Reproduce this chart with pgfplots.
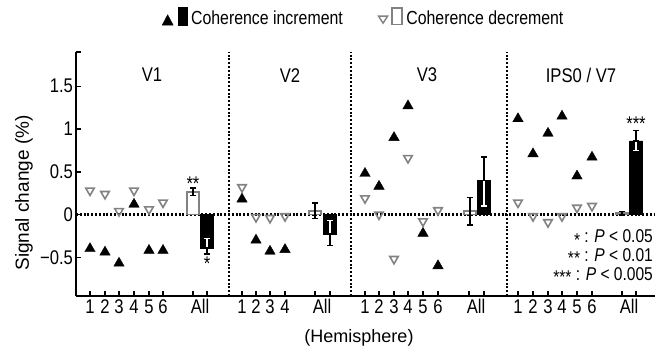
\documentclass[border=0pt]{standalone}
\usepackage{pgfplots}
\pgfplotsset{compat=1.18}
\usepackage{fontspec}
\setmainfont{Liberation Sans}[FakeStretch=0.84]
\newfontfamily\widefont{Liberation Sans}
\definecolor{mgray}{RGB}{130,130,130}
\newcommand\nf{\fontsize{19.8}{22}\selectfont}
\newcommand\lf{\fontsize{18.9}{22}\selectfont}
\begin{document}
\begin{tikzpicture}
\useasboundingbox (-76pt,-56pt) rectangle (589pt,296pt);
\begin{axis}[
  scale only axis, width=579pt, height=244pt,
  xmin=76, xmax=655, ymin=-0.953, ymax=1.901,
  axis x line*=bottom, axis y line*=left,
  axis line style={-, line width=2pt},
  tick align=inside, major tick length=5pt,
  tick style={line width=1.5pt, black},
  xtick={90,105,119,134,149,163,193,207,242,256,270,285,315,330,365,379,394,408,423,438,469,484,518,533,548,562,577,592,622,636},
  xticklabels={1,2,3,4,5,6,,,1,2,3,4,,,1,2,3,4,5,6,,,1,2,3,4,5,6,,},
  extra x ticks={200,322,476,629},
  extra x tick labels={All,All,All,All},
  extra x tick style={major tick length=0pt},
  ytick={-0.5,0,0.5,1,1.5},
  yticklabels={−0.5,0,0.5,1,1.5},
  extra y ticks={1.9}, extra y tick labels={},
  ticklabel style={font=\nf},
  yticklabel style={xshift=0.5pt},
  clip=false,
  legend columns=2,
  legend style={draw=none, fill=none, inner sep=0pt, outer sep=0pt,
    at={(axis description cs:0.1485,1.1844)}, anchor=north west,
    nodes={inner sep=0pt, font=\lf},
    /tikz/every odd column/.append style={column sep=3.7pt},
    /tikz/every even column/.append style={column sep=35pt}},
]
\addlegendimage{legend image code/.code={
  \fill[black] (0pt,-7pt) -- (11pt,-7pt) -- (5.5pt,3.5pt) -- cycle;
  \fill[black] (16pt,-7pt) rectangle (25pt,11pt);
}}
\addlegendentry{Coherence increment}
\addlegendimage{legend image code/.code={
  \draw[mgray, line width=1.4pt, fill=white] (0.5pt,2pt) -- (9.5pt,2pt) -- (5pt,-5pt) -- cycle;
  \draw[mgray, line width=1.6pt, fill=white] (14.2pt,-6.2pt) rectangle (23.8pt,10.2pt);
}}
\addlegendentry{Coherence decrement}

% separators and zero line
\addplot[forget plot, black, line width=2.3pt, dash pattern=on 2pt off 1.8pt] coordinates {(229,-0.953) (229,1.901)};
\addplot[forget plot, black, line width=2.3pt, dash pattern=on 2pt off 1.8pt] coordinates {(351,-0.953) (351,1.901)};
\addplot[forget plot, black, line width=2.3pt, dash pattern=on 2pt off 1.8pt] coordinates {(507,-0.953) (507,1.901)};
\addplot[forget plot, black, line width=2.3pt, dash pattern=on 2pt off 1.8pt] coordinates {(76,0) (655,0)};

% bars
\addplot[forget plot, ybar, bar width=12pt, bar shift=0pt, draw=mgray, fill=white, line width=1.6pt]
  coordinates {(193,0.26) (315,0.04) (470,0.04) (622,0.015)};
\addplot[forget plot, ybar, bar width=13pt, bar shift=0pt, draw=black, fill=black]
  coordinates {(207,-0.39) (330,-0.23) (484,0.40) (636,0.86)};

% error bars of open bars
\addplot[forget plot, draw=none, mark=none,
  error bars/.cd, y dir=both, y explicit,
  error bar style={draw=black, line width=1.5pt},
  error mark options={draw=black, rotate=90, mark size=3pt, line width=1.5pt}]
  coordinates {(193,0.265) +- (0,0.045) (315,0.045) +- (0,0.09) (470,0.04) +- (0,0.16) (622,0.015) +- (0,0.02)};
% inner (white) parts of filled bars' error bars
\addplot[forget plot, draw=none, mark=none,
  error bars/.cd, y dir=both, y explicit,
  error bar style={draw=white, line width=1.5pt},
  error mark options={draw=white, rotate=90, mark size=3pt, line width=1.5pt}]
  coordinates {(207,-0.39) += (0,0.11) -= (0,0) (330,-0.23) += (0,0.16) -= (0,0) (484,0.40) += (0,0) -= (0,0.30) (636,0.86) += (0,0) -= (0,0.11)};
% outer (black) parts
\addplot[forget plot, draw=none, mark=none,
  error bars/.cd, y dir=both, y explicit,
  error bar style={draw=black, line width=1.5pt},
  error mark options={draw=black, rotate=90, mark size=3pt, line width=1.5pt}]
  coordinates {(207,-0.39) += (0,0) -= (0,0.07) (330,-0.23) += (0,0) -= (0,0.135) (484,0.40) += (0,0.27) -= (0,0) (636,0.86) += (0,0.12) -= (0,0)};

% coherence decrement (gray open down triangles)
\addplot[forget plot, only marks, mark=triangle, mark size=4.9pt,
  mark options={rotate=180, draw=mgray, fill=white, line width=1.6pt}]
  coordinates {(90,0.28) (105,0.24) (119,0.04) (134,0.28) (149,0.06) (163,0.14)
               (242,0.32) (256,-0.03) (270,-0.04) (285,-0.02)
               (365,0.19) (379,0.00) (394,-0.52) (408,0.66) (423,-0.08) (438,0.05)
               (518,0.14) (533,-0.02) (548,-0.09) (562,-0.02) (577,0.08) (592,0.10)};
% coherence increment (black filled up triangles)
\addplot[forget plot, only marks, mark=triangle*, mark size=6pt,
  mark options={draw=black, fill=black}]
  coordinates {(90,-0.40) (105,-0.44) (119,-0.57) (134,0.12) (149,-0.42) (163,-0.42)
               (242,0.18) (256,-0.30) (270,-0.43) (285,-0.41)
               (365,0.48) (379,0.33) (394,0.90) (408,1.27) (423,-0.22) (438,-0.60)
               (518,1.12) (533,0.71) (548,0.95) (562,1.15) (577,0.45) (592,0.67)};

% region titles
\node[font=\nf] at (axis cs:152,1.63) {V1};
\node[font=\nf] at (axis cs:290,1.63) {V2};
\node[font=\nf] at (axis cs:427,1.63) {V3};
\node[font=\nf] at (axis cs:581,1.63) {IPS0 / V7};

% stars
\node[font=\nf, inner sep=0pt] at (axis cs:193,0.36) {**};
\node[font=\nf, inner sep=0pt] at (axis cs:207,-0.58) {*};
\node[font=\nf, inner sep=0pt] at (axis cs:636,1.06) {***};

% significance legend
\node[font=\fontsize{18.5}{20}\selectfont, anchor=base east, inner sep=0pt] at (axis cs:653,-0.333) {\raisebox{-0.2em}{*} : \textit{P} < 0.05};
\node[font=\fontsize{18.5}{20}\selectfont, anchor=base east, inner sep=0pt] at (axis cs:653,-0.544) {\raisebox{-0.2em}{**} : \textit{P} < 0.01};
\node[font=\fontsize{18.5}{20}\selectfont, anchor=base east, inner sep=0pt] at (axis cs:653,-0.766) {\raisebox{-0.2em}{***} : \textit{P} < 0.005};
\end{axis}
\node[rotate=90, font=\widefont\fontsize{19}{22}\selectfont] at (-52pt,103pt) {Signal change (\%)};
\node[font=\widefont\fontsize{18}{21}\selectfont] at (283pt,-41.5pt) {(Hemisphere)};
\end{tikzpicture}
\end{document}
